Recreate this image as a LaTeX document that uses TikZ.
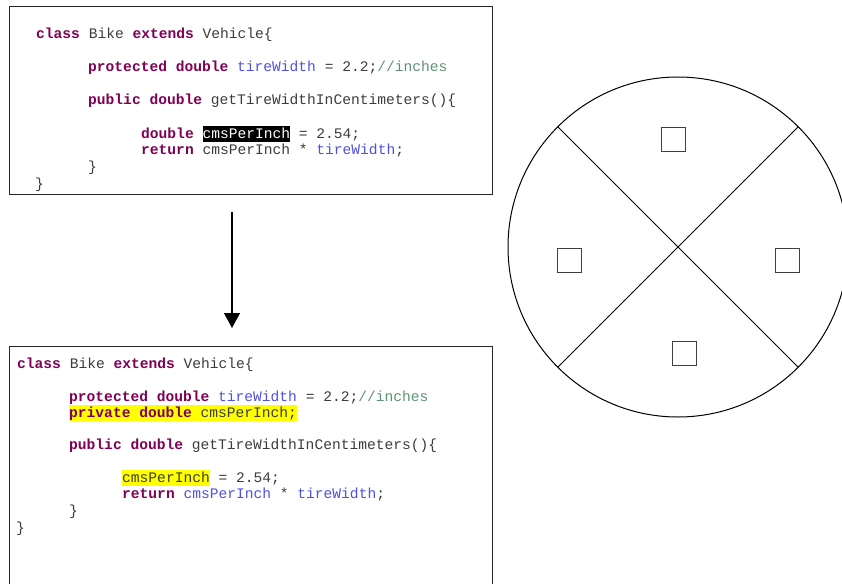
\documentclass[tikz,border=0pt]{standalone}
\usepackage{fontspec}
\setmonofont{Liberation Mono}
\usetikzlibrary{arrows.meta}
\definecolor{kwpurple}{RGB}{127,0,85}
\definecolor{fldblue}{RGB}{80,80,225}
\definecolor{cmtgreen}{RGB}{95,145,118}
\definecolor{plaingray}{RGB}{60,60,60}
\definecolor{hlyellow}{RGB}{255,255,0}
\newcommand{\codefont}{\ttfamily\fontsize{14.6}{16}\selectfont}
\newcommand{\kw}[1]{\textcolor{kwpurple}{\bfseries #1}}
\newcommand{\fld}[1]{\textcolor{fldblue}{#1}}
\newcommand{\cmt}[1]{\textcolor{cmtgreen}{#1}}
\newcommand{\hlbox}[2]{{\setlength{\fboxsep}{0pt}\colorbox{#1}{\rule[-3.5pt]{0pt}{16pt}#2}}}
\begin{document}
\begin{tikzpicture}[x=1pt,y=-1pt,
  code/.style={anchor=base west,inner sep=0pt,font=\codefont,text=plaingray},
  codebox/.style={draw=black!85,line width=1pt,inner sep=0pt},
  slot/.style={draw=black!75,line width=1pt,minimum size=24,inner sep=0pt},
  arrowline/.style={line width=1.3pt,-{Triangle[length=15pt,width=16pt]}}]%refactoring
\useasboundingbox (0,0) rectangle (842,583);
\clip (0,0) rectangle (842,583);
% old code
\node[codebox,minimum width=483,minimum height=187] (oldcode) at (250.5,100.5) {};
\node[code] (a1) at (36,38.5) {\kw{class} Bike \kw{extends} Vehicle\{};
\node[code] (a2) at (88,71.5) {\kw{protected double} \fld{tireWidth} = 2.2;\cmt{//inches}};
\node[code] (a3) at (88,105) {\kw{public double} getTireWidthInCentimeters()\{};
\node[code] (a4) at (141,138) {\kw{double} \hlbox{black}{\textcolor{white}{cmsPerInch}} = 2.54;};
\node[code] (a5) at (141,154) {\kw{return} cmsPerInch * \fld{tireWidth};};
\node[code] (a6) at (88,171) {\}};
\node[code] (a7) at (35,188) {\}};
% arrow
\coordinate (arrtop) at (232,212);
\coordinate (arrbot) at (232,328);
\draw[arrowline] (arrtop) -- (arrbot);
% new code
\node[codebox,minimum width=483,minimum height=274] (newcode) at (250.5,483) {};
\node[code] (b1) at (17,368) {\kw{class} Bike \kw{extends} Vehicle\{};
\node[code] (b2) at (69,401) {\kw{protected double} \fld{tireWidth} = 2.2;\cmt{//inches}};
\node[code] (b3) at (69,417) {\hlbox{hlyellow}{\kw{private double} cmsPerInch;}};
\node[code] (b4) at (69,449) {\kw{public double} getTireWidthInCentimeters()\{};
\node[code] (b5) at (122,482) {\hlbox{hlyellow}{cmsPerInch} = 2.54;};
\node[code] (b6) at (122,498) {\kw{return} \fld{cmsPerInch} * \fld{tireWidth};};
\node[code] (b7) at (69,515) {\}};
\node[code] (b8) at (16,532) {\}};
% wheel
\node[draw,circle,line width=1pt,minimum size=340,inner sep=0pt,outer sep=0pt] (wheel) at (678,247) {};
\draw[line width=1pt] (wheel.135) -- (wheel.-45);
\draw[line width=1pt] (wheel.45) -- (wheel.-135);
\node[slot] (s1) at (673,139) {};
\node[slot] (s2) at (569.5,260) {};
\node[slot] (s3) at (787,260) {};
\node[slot] (s4) at (684,353.5) {};
\end{tikzpicture}
\end{document}
